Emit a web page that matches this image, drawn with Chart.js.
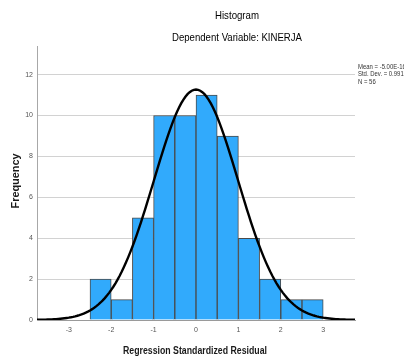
<!DOCTYPE html>
<html>
<head>
<meta charset="utf-8">
<script src="https://cdn.jsdelivr.net/npm/chart.js@4.4.1/dist/chart.umd.min.js"></script>
<style>
  html, body { margin: 0; padding: 0; background: #ffffff; }
  #wrap { width: 404px; height: 361px; }
</style>
</head>
<body>
<div id="wrap"><canvas id="c" width="404" height="361"></canvas></div>
<script>
// ---- Data ----
const binCenters = [-2.25, -1.75, -1.25, -0.75, -0.25, 0.25, 0.75, 1.25, 1.75, 2.25, 2.75];
const frequencies = [2, 1, 5, 10, 10, 11, 9, 4, 2, 1, 1];
const xTickValues = [-3, -2, -1, 0, 1, 2, 3];
const yTickValues = [0, 2, 4, 6, 8, 10, 12];
const binWidth = 0.5;
const statMean = 0;          // shown as -5.00E-16
const statSD = 0.991;
const statN = 56;
const titleText = "Histogram";
const subtitleText = "Dependent Variable: KINERJA";
const xTitle = "Regression Standardized Residual";
const yTitle = "Frequency";
const legendLines = ["Mean = -5.00E-16", "Std. Dev. = 0.991", "N = 56"];

// Fitted normal curve defined by the stats in the legend
function normalCount(x) {
  return statN * binWidth / (statSD * Math.sqrt(2 * Math.PI)) *
         Math.exp(-0.5 * Math.pow((x - statMean) / statSD, 2));
}
const curveX = [];
for (let i = 0; i <= 150; i++) curveX.push(-3.75 + i * 0.05);
const curvePoints = curveX.map(x => ({ x: x, y: normalCount(x) }));
const barPoints = binCenters.map((c, i) => ({ x: c, y: frequencies[i] }));

const FONT = "'Liberation Sans', Arial, sans-serif";

function fitText(ctx, text, cx, cy, targetW, font, color) {
  ctx.save();
  ctx.font = font;
  ctx.fillStyle = color;
  ctx.textAlign = 'center';
  ctx.textBaseline = 'middle';
  const w = ctx.measureText(text).width;
  const s = targetW / w;
  ctx.translate(cx, cy);
  ctx.scale(s, 1);
  ctx.fillText(text, 0, 0);
  ctx.restore();
}

const textPlugin = {
  id: 'texts',
  afterDraw(chart) {
    const ctx = chart.ctx;
    fitText(ctx, titleText, 237, 16.5, 44, "10.5px " + FONT, '#000');
    fitText(ctx, subtitleText, 237, 38.5, 130, "10.5px " + FONT, '#000');
    fitText(ctx, xTitle, 195, 351.5, 144, "bold 10px " + FONT, '#1a1a1a');
    // rotated y title
    ctx.save();
    ctx.translate(16, 181);
    ctx.rotate(-Math.PI / 2);
    fitText(ctx, yTitle, 0, 0, 55, "bold 10px " + FONT, '#1a1a1a');
    ctx.restore();
    // legend
    ctx.save();
    ctx.font = "7px " + FONT;
    ctx.fillStyle = '#333';
    ctx.textAlign = 'left';
    ctx.textBaseline = 'middle';
    const ys = [67, 74.5, 82];
    legendLines.forEach((t, i) => {
      ctx.save();
      ctx.translate(358, ys[i]);
      ctx.scale(0.85, 1);
      ctx.fillText(t, 0, 0);
      ctx.restore();
    });
    ctx.restore();
  }
};

new Chart(document.getElementById('c'), {
  type: 'bar',
  data: {
    datasets: [
      {
        type: 'line',
        data: curvePoints,
        borderColor: '#000000',
        borderWidth: 2.4,
        pointRadius: 0,
        tension: 0,
        fill: false,
        order: 0
      },
      {
        type: 'bar',
        data: barPoints,
        backgroundColor: '#31aafc',
        borderColor: '#4a4a4a',
        borderWidth: 1,
        barPercentage: 1,
        categoryPercentage: 1,
        grouped: false,
        order: 1
      }
    ]
  },
  options: {
    responsive: false,
    maintainAspectRatio: false,
    animation: false,
    devicePixelRatio: 1,
    layout: { padding: { top: 46, right: 49, bottom: 0, left: 0 } },
    plugins: {
      legend: { display: false },
      tooltip: { enabled: false },
      title: { display: false }
    },
    scales: {
      x: {
        type: 'linear',
        min: -3.75,
        max: 3.75,
        offset: false,
        afterBuildTicks: s => { s.ticks = xTickValues.map(v => ({ value: v })); },
        afterFit: s => { s.height = 41; },
        grid: { display: false, drawTicks: false, offset: false },
        border: { display: true, color: '#9a9a9a', width: 1 },
        ticks: {
          padding: 6,
          color: '#555',
          font: { size: 7, family: FONT },
          maxRotation: 0,
          callback: v => String(v)
        }
      },
      y: {
        type: 'linear',
        min: 0,
        max: 13.4,
        afterBuildTicks: s => { s.ticks = yTickValues.map(v => ({ value: v })); },
        afterFit: s => { s.width = 37; },
        grid: { color: '#d2d2d2', lineWidth: 1, drawTicks: false },
        border: { display: true, color: '#a8a8a8', width: 1 },
        ticks: {
          padding: 4,
          color: '#555',
          font: { size: 7, family: FONT },
          callback: v => String(v)
        }
      }
    }
  },
  plugins: [textPlugin]
});
</script>
</body>
</html>
